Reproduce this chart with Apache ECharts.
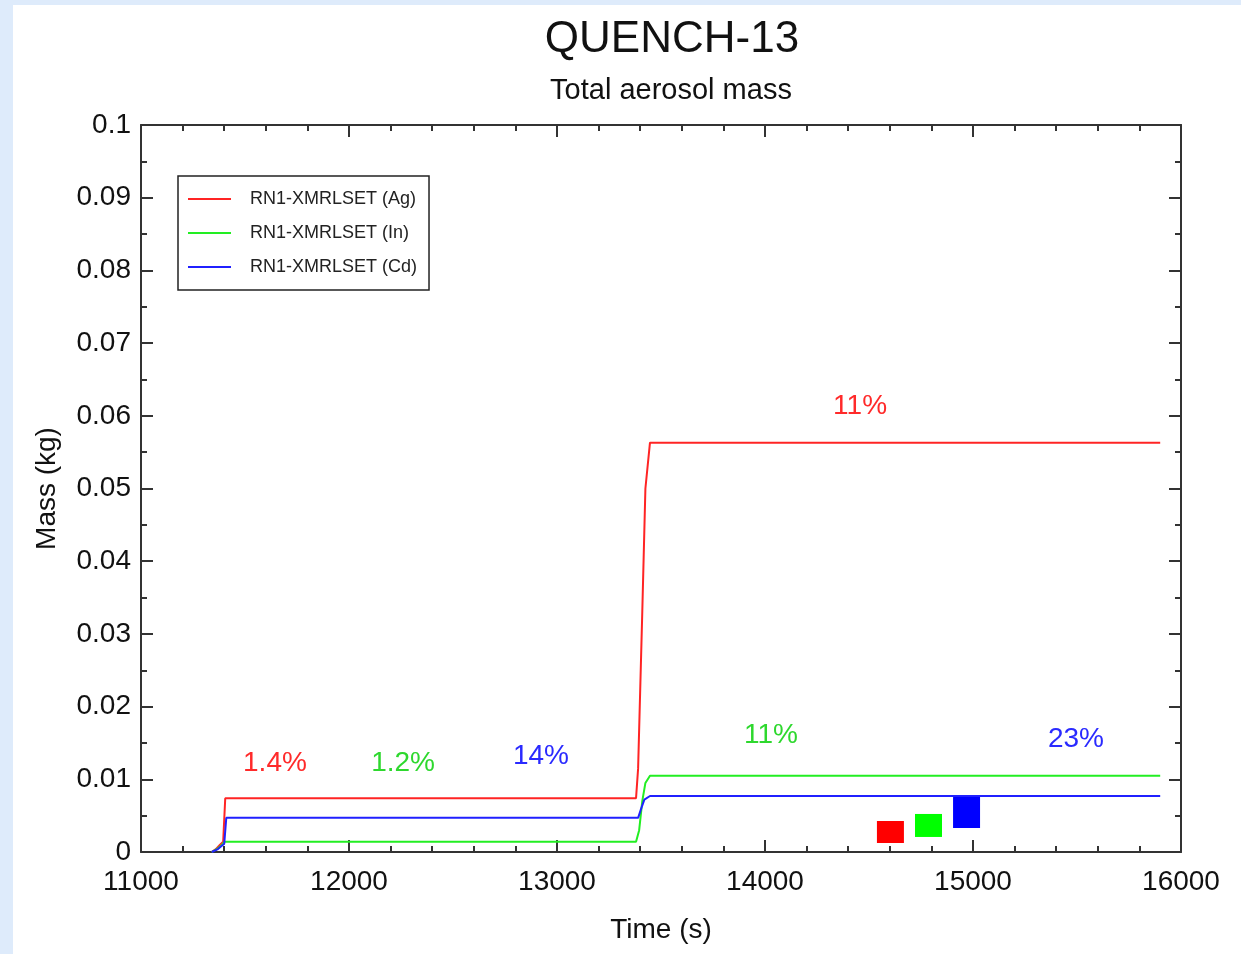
<!DOCTYPE html>
<html>
<head>
<meta charset="utf-8">
<script src="https://cdn.jsdelivr.net/npm/echarts@6/dist/echarts.min.js"></script>
<style>
  html, body { margin: 0; padding: 0; background: #deebfb; }
  #sheet { position: absolute; left: 13px; top: 5px; width: 1228px; height: 949px; background: #ffffff; }
  #chart { position: absolute; left: 0; top: 0; width: 1241px; height: 954px; }
</style>
</head>
<body>
<div id="sheet"></div>
<div id="chart"></div>
<script>
// Total aerosol mass (kg) versus time (s), QUENCH-13
const seriesNames = ['RN1-XMRLSET (Ag)', 'RN1-XMRLSET (In)', 'RN1-XMRLSET (Cd)'];
const seriesColors = ['#ff2424', '#22ee22', '#2020ff'];

const agMass = [
  [11340, 0], [11360, 0.0004], [11380, 0.0010], [11395, 0.0014], [11405, 0.0074],
  [13380, 0.0074], [13390, 0.0115], [13410, 0.0330], [13425, 0.0500], [13447, 0.0563],
  [15900, 0.0563]
];
const inMass = [
  [11340, 0], [11370, 0.0005], [11390, 0.0010], [11400, 0.0014],
  [13380, 0.0014], [13395, 0.0030], [13410, 0.0070], [13425, 0.0095], [13447, 0.0105],
  [15900, 0.0105]
];
const cdMass = [
  [11340, 0], [11370, 0.0004], [11390, 0.0009], [11400, 0.0011], [11410, 0.0047],
  [13390, 0.0047], [13405, 0.0060], [13420, 0.0072], [13447, 0.0077],
  [15900, 0.0077]
];

// release fractions written above the curves: [time, mass, text, series]
const fractionLabels = [
  [11644, 0.0122, '1.4%', 0],
  [12260, 0.0122, '1.2%', 1],
  [12923, 0.0132, '14%', 2],
  [14457, 0.0613, '11%', 0],
  [14029, 0.0160, '11%', 1],
  [15495, 0.0155, '23%', 2]
];

// small colour key squares: [time, mass, width, height, series]
const keySquares = [
  [14603, 0.00275, 27, 22, 0],
  [14786, 0.00365, 27, 23, 1],
  [14969, 0.00543, 27, 31, 2]
];
const squareColors = ['#ff0000', '#00ff00', '#0000ff'];
const labelColors = ['#ff2a2a', '#2ed82e', '#2a2aff'];

const xTicks = { min: 11000, max: 16000, interval: 1000 };
const yTicks = { min: 0, max: 0.1, interval: 0.01 };

const FONT = '"Liberation Sans", Arial, sans-serif';
const AXIS_COLOR = '#333333';

function valueAxis(base, extra) {
  return Object.assign({
    type: 'value',
    min: base.min, max: base.max, interval: base.interval,
    axisLine: { show: true, onZero: false, lineStyle: { color: AXIS_COLOR, width: 2 } },
    axisTick: { show: true, inside: true, length: 12, lineStyle: { color: AXIS_COLOR, width: 2 } },
    minorTick: { show: true, splitNumber: 5, length: 6, lineStyle: { color: AXIS_COLOR, width: 2 } },
    splitLine: { show: false },
    axisLabel: { show: false }
  }, extra);
}

const chart = echarts.init(document.getElementById('chart'), null, { renderer: 'canvas' });

const lineSeries = [agMass, inMass, cdMass].map((d, i) => ({
  name: seriesNames[i],
  type: 'line',
  data: d,
  xAxisIndex: 0, yAxisIndex: 0,
  symbol: 'none',
  smooth: false,
  lineStyle: { color: seriesColors[i], width: 2 },
  itemStyle: { color: seriesColors[i] },
  z: 3,
  silent: true
}));

chart.setOption({
  animation: false,
  backgroundColor: 'transparent',
  textStyle: { fontFamily: FONT },
  title: [
    { text: 'QUENCH-13', left: 667, top: 13, textAlign: 'center',
      textStyle: { fontFamily: FONT, fontSize: 44, fontWeight: 'normal', color: '#111' } },
    { text: 'Total aerosol mass', left: 666, top: 71, textAlign: 'center',
      textStyle: { fontFamily: FONT, fontSize: 29, fontWeight: 'normal', color: '#111' } }
  ],
  legend: {
    data: seriesNames.map(n => ({ name: n, icon: 'rect' })),
    orient: 'vertical',
    left: 178, top: 176,
    padding: [14, 12, 14, 10],
    itemWidth: 43, itemHeight: 2, itemGap: 16,
    borderColor: '#222', borderWidth: 1.5,
    backgroundColor: '#fff',
    textStyle: { fontFamily: FONT, fontSize: 18, color: '#222', padding: [0, 0, 0, 14] },
    selectedMode: false
  },
  grid: { left: 141, top: 125, right: 60, bottom: 102, containLabel: false },
  xAxis: [
    valueAxis(xTicks, {
      position: 'bottom',
      name: 'Time (s)', nameLocation: 'middle', nameGap: 64,
      nameTextStyle: { fontFamily: FONT, fontSize: 28, color: '#111' },
      axisLabel: { show: true, margin: 16, fontFamily: FONT, fontSize: 28, color: '#111',
        formatter: v => String(v) }
    }),
    valueAxis(xTicks, { position: 'top' })
  ],
  yAxis: [
    valueAxis(yTicks, {
      position: 'left',
      minorTick: { show: true, splitNumber: 2, length: 6, lineStyle: { color: AXIS_COLOR, width: 2 } },
      name: 'Mass (kg)', nameLocation: 'middle', nameGap: 80,
      nameTextStyle: { fontFamily: FONT, fontSize: 28, color: '#111' },
      axisLabel: {
        show: true, margin: 10, fontFamily: FONT, fontSize: 28, color: '#111',
        formatter: v => String(+v.toFixed(3))
      }
    }),
    valueAxis(yTicks, {
      position: 'right',
      minorTick: { show: true, splitNumber: 2, length: 6, lineStyle: { color: AXIS_COLOR, width: 2 } }
    })
  ],
  series: lineSeries.concat([
    {
      type: 'scatter',
      name: 'fractions',
      silent: true,
      itemStyle: { opacity: 1 },
      data: fractionLabels.map(r => ({
        value: [r[0], r[1]],
        label: { color: labelColors[r[3]] },
        text: r[2]
      })),
      symbolSize: 0,
      label: {
        show: true, position: 'inside', fontFamily: FONT, fontSize: 28,
        formatter: p => p.data.text
      },
      z: 4
    },
    {
      type: 'scatter',
      name: 'key',
      silent: true,
      symbol: 'rect',
      itemStyle: { opacity: 1 },
      data: keySquares.map(r => ({
        value: [r[0], r[1]],
        symbolSize: [r[2], r[3]],
        itemStyle: { color: squareColors[r[4]], opacity: 1 }
      })),
      z: 5
    }
  ])
});
</script>
</body>
</html>
